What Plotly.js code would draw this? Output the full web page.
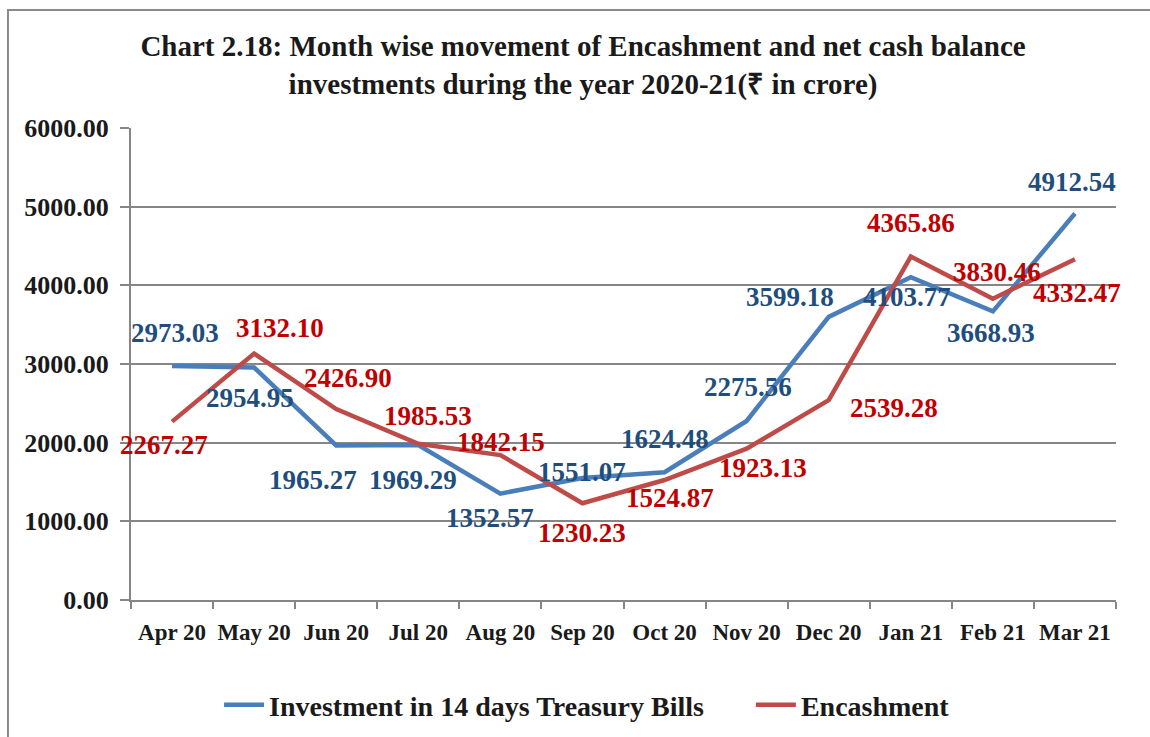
<!DOCTYPE html>
<html>
<head>
<meta charset="utf-8">
<script src="https://cdn.plot.ly/plotly-3.0.1.min.js"></script>
<style>html,body{margin:0;padding:0;background:#fff;}#chart{width:1150px;height:737px;}</style>
</head>
<body>
<div id="chart"></div>
<script>
const months = ["Apr 20","May 20","Jun 20","Jul 20","Aug 20","Sep 20","Oct 20","Nov 20","Dec 20","Jan 21","Feb 21","Mar 21"];
const investment = [2973.03,2954.95,1965.27,1969.29,1352.57,1551.07,1624.48,2275.56,3599.18,4103.77,3668.93,4912.54];
const encashment = [2267.27,3132.10,2426.90,1985.53,1842.15,1230.23,1524.87,1923.13,2539.28,4365.86,3830.46,4332.47];
const yTicks = [0,1000,2000,3000,4000,5000,6000];

// label offsets in pixels [dx, dy(screen, down positive)]
const invOffsets = [[3,-33],[-4,30],[-23,35],[-5,35],[-10,24],[0,-6],[0,-33],[1,-34],[-39,-20],[-4,20],[-2,22],[-3,-32]];
const encOffsets = [[-8,23],[26,-26],[12,-31],[10,-28],[1,-13],[0,30],[5,18],[16,19],[65,8],[0,-34],[4,-27],[2,34]];

const FONT = "'Liberation Serif','Times New Roman',serif";
const annotations = [];
months.forEach((m,i)=>{
  annotations.push({x:m,y:investment[i],xref:'x',yref:'y',text:investment[i].toFixed(2),showarrow:false,
    xshift:invOffsets[i][0],yshift:-invOffsets[i][1],font:{family:FONT,size:27,color:'#1F4E7E',weight:'bold'}});
  annotations.push({x:m,y:encashment[i],xref:'x',yref:'y',text:encashment[i].toFixed(2),showarrow:false,
    xshift:encOffsets[i][0],yshift:-encOffsets[i][1],font:{family:FONT,size:27,color:'#C00000',weight:'bold'}});
});

const NB = '\u00A0';
const traces = [
  {x:months,y:investment,type:'scatter',mode:'lines',name:'Investment in 14 days Treasury Bills'+NB.repeat(6),
   line:{color:'#4A7EBB',width:4.5},hoverinfo:'skip'},
  {x:months,y:encashment,type:'scatter',mode:'lines',name:'Encashment',
   line:{color:'#BE4B48',width:4.5},hoverinfo:'skip'}
];

const layout = {
  width:1150,height:737,
  margin:{l:131,r:34,t:128,b:137,autoexpand:false},
  paper_bgcolor:'#ffffff',plot_bgcolor:'#ffffff',
  font:{family:FONT,color:'#1a1a1a'},
  title:{text:'<b>Chart 2.18: Month wise movement of Encashment and net cash balance<br>investments during the year 2020-21(₹ in crore)</b>',
    x:0.507,xanchor:'center',xref:'container',y:0.924,yanchor:'top',yref:'container',
    font:{family:FONT,size:29,color:'#1a1a1a'}},
  xaxis:{type:'category',range:[-0.5,11.5],tickson:'boundaries',ticks:'outside',ticklen:7,tickcolor:'#868686',tickwidth:2,
    showline:true,linecolor:'#868686',linewidth:2,showgrid:false,zeroline:false,tickangle:0,automargin:false,
    tickfont:{family:FONT,size:23,color:'#1a1a1a',weight:'bold'},ticklabelstandoff:10},
  yaxis:{range:[0,6000],tickvals:yTicks,ticktext:yTicks.map(v=>v.toFixed(2)),ticks:'outside',ticklen:9,tickcolor:'#868686',tickwidth:2,
    showline:true,linecolor:'#868686',linewidth:2,showgrid:true,gridcolor:'#868686',gridwidth:2,zeroline:false,automargin:false,
    tickfont:{family:FONT,size:26,color:'#1a1a1a',weight:'bold'},ticklabelstandoff:6},
  showlegend:true,
  legend:{orientation:'h',x:0.463,xanchor:'center',y:0.0434,yref:'container',yanchor:'middle',
    font:{family:FONT,size:28,color:'#1a1a1a',weight:'bold'},itemwidth:40,tracegroupgap:0},
  shapes:[{type:'rect',xref:'paper',yref:'paper',x0:-0.1249,x1:1.2,y0:-0.6,y1:1.25,line:{color:'#8a8a8a',width:2},fillcolor:'rgba(0,0,0,0)'}],
  annotations:annotations
};
Plotly.newPlot('chart',traces,layout,{displayModeBar:false,staticPlot:true});
</script>
</body>
</html>
